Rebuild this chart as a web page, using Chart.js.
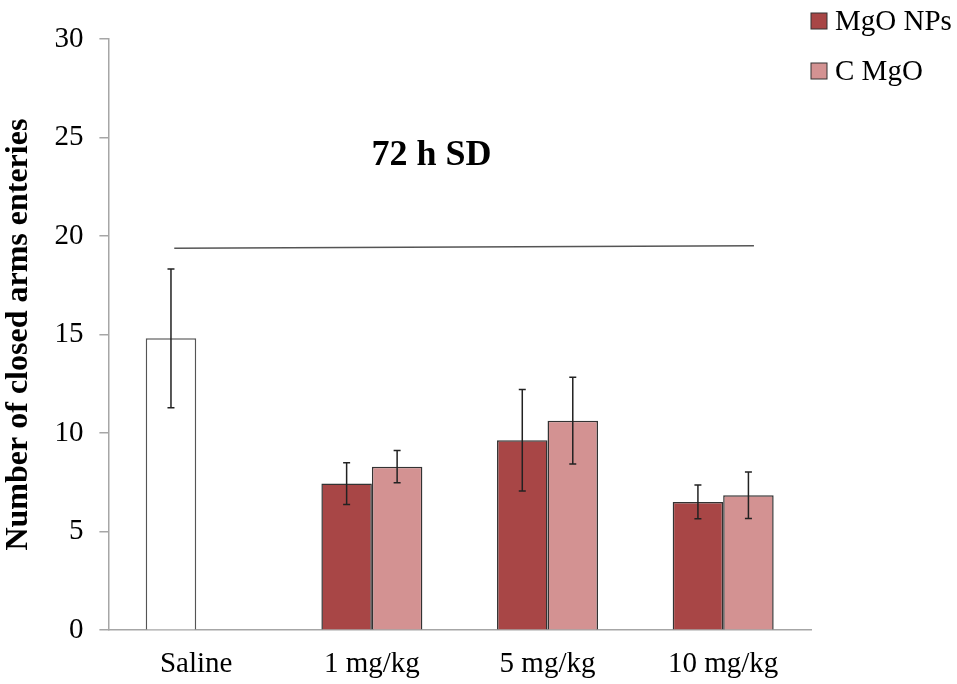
<!DOCTYPE html>
<html>
<head>
<meta charset="utf-8">
<script src="https://cdn.jsdelivr.net/npm/chart.js@4"></script>
<style>
  html, body { margin: 0; padding: 0; background: #fff; }
  #wrap { width: 957px; height: 684px; }
</style>
</head>
<body>
<div id="wrap"><canvas id="chart" width="957" height="684"></canvas></div>
<script>
// values
const categories = ['Saline', '1 mg/kg', '5 mg/kg', '10 mg/kg'];
const seriesNames = ['MgO NPs', 'C MgO'];
const mgoNps = [14.81, 7.44, 9.64, 6.51];      // first slot; Saline bar is the control
const cMgo = [null, 8.30, 10.63, 6.85];
const mgoNpsErr = [3.52, 1.06, 2.58, 0.86];
const cMgoErr = [null, 0.82, 2.20, 1.18];
const yTicks = [0, 5, 10, 15, 20, 25, 30];

// significance line from Saline over all treated groups (category positions, y value)
const sigFrom = -0.125, sigTo = 3.175;
const sigY = [19.38, 19.51];
const panelLabel = '72 h SD';
const panelLabelPos = { x: 1.34, y: 23.6 };

const FONT = "'Liberation Serif', 'Times New Roman', serif";
const DARK = '#A84646';
const LIGHT = '#D39292';
const AXIS = '#A6A6A6';

const errorBars = {
  id: 'errorBars',
  afterDatasetsDraw(chart) {
    const { ctx } = chart;
    const y = chart.scales.y;
    const errs = [mgoNpsErr, cMgoErr];
    ctx.save();
    ctx.strokeStyle = '#222';
    ctx.lineWidth = 1.5;
    chart.data.datasets.forEach((ds, di) => {
      chart.getDatasetMeta(di).data.forEach((bar, i) => {
        const v = ds.data[i], e = errs[di][i];
        if (v == null || e == null) return;
        const x = bar.x;
        const top = y.getPixelForValue(v + e), bot = y.getPixelForValue(v - e);
        ctx.beginPath();
        ctx.moveTo(x, top); ctx.lineTo(x, bot);
        ctx.moveTo(x - 3.5, top); ctx.lineTo(x + 3.5, top);
        ctx.moveTo(x - 3.5, bot); ctx.lineTo(x + 3.5, bot);
        ctx.stroke();
      });
    });
    ctx.restore();
  }
};

const annotations = {
  id: 'annotations',
  afterDraw(chart) {
    const { ctx, chartArea } = chart;
    const xs = chart.scales.x, ys = chart.scales.y;
    ctx.save();
    // significance line
    ctx.strokeStyle = '#555';
    ctx.lineWidth = 1.5;
    ctx.beginPath();
    ctx.moveTo(xs.getPixelForValue(sigFrom), ys.getPixelForValue(sigY[0]));
    ctx.lineTo(xs.getPixelForValue(sigTo), ys.getPixelForValue(sigY[1]));
    ctx.stroke();
    // panel label
    ctx.fillStyle = '#000';
    ctx.font = `bold 36px ${FONT}`;
    ctx.textAlign = 'center';
    ctx.textBaseline = 'alphabetic';
    ctx.fillText(panelLabel, xs.getPixelForValue(panelLabelPos.x), ys.getPixelForValue(panelLabelPos.y));
    // legend, top right
    const colors = [DARK, LIGHT];
    ctx.font = `29px ${FONT}`;
    ctx.textAlign = 'left';
    ctx.textBaseline = 'middle';
    seriesNames.forEach((name, i) => {
      const bx = chartArea.right, by = 13 + i * 50;
      ctx.fillStyle = colors[i];
      ctx.fillRect(bx, by, 16, 16);
      ctx.strokeStyle = '#333';
      ctx.lineWidth = 1;
      ctx.strokeRect(bx, by, 16, 16);
      ctx.fillStyle = '#000';
      ctx.fillText(name, bx + 24, by + 9);
    });
    ctx.restore();
  }
};

new Chart(document.getElementById('chart'), {
  type: 'bar',
  data: {
    labels: categories,
    datasets: [
      {
        label: seriesNames[0],
        data: mgoNps,
        backgroundColor: ['#ffffff', DARK, DARK, DARK],
        borderColor: ['#555555', '#333333', '#333333', '#333333'],
        borderWidth: 1.5,
        categoryPercentage: 0.575,
        barPercentage: 1.0
      },
      {
        label: seriesNames[1],
        data: cMgo,
        backgroundColor: LIGHT,
        borderColor: '#333333',
        borderWidth: 1.5,
        categoryPercentage: 0.575,
        barPercentage: 1.0
      }
    ]
  },
  options: {
    responsive: false,
    animation: false,
    layout: { padding: { left: 0, right: 146, top: 39, bottom: -7 } },
    plugins: {
      legend: { display: false },
      tooltip: { enabled: false }
    },
    scales: {
      x: {
        grid: { display: false },
        border: { color: AXIS, width: 1.5 },
        ticks: { color: '#000', font: { family: FONT, size: 29 }, padding: 9 }
      },
      y: {
        min: 0,
        max: 30,
        afterBuildTicks: s => { s.ticks = yTicks.map(v => ({ value: v })); },
        grid: { drawOnChartArea: false, drawTicks: true, tickLength: 9, color: AXIS, lineWidth: 1.5 },
        border: { color: AXIS, width: 1.5 },
        ticks: { color: '#000', font: { family: FONT, size: 29 }, padding: 16 },
        title: {
          display: true,
          text: 'Number of closed arms enteries',
          color: '#000',
          font: { family: FONT, size: 32, weight: 'bold' },
          padding: { top: 0, bottom: 0 }
        }
      }
    }
  },
  plugins: [errorBars, annotations]
});
</script>
</body>
</html>
